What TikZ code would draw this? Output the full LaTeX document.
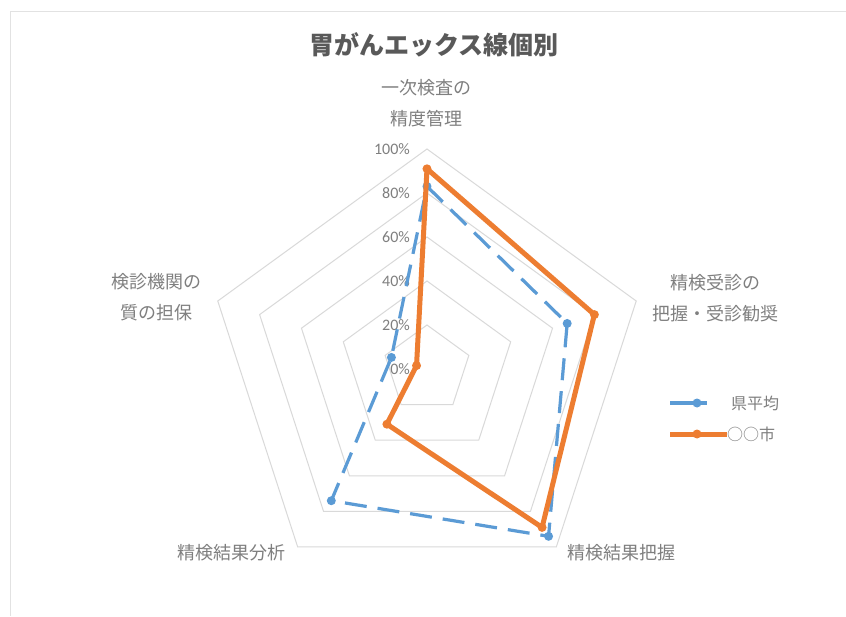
\documentclass[tikz,border=0pt]{standalone}
\usepackage{fontspec}
\newfontfamily\cjk{Noto Sans CJK JP}
\newfontfamily\numfont{Carlito}
\definecolor{avgblue}{HTML}{5B9BD5}
\definecolor{cityorange}{HTML}{ED7D31}
\definecolor{ringgray}{HTML}{D9D9D9}
\definecolor{framegray}{HTML}{E2E2E2}
\definecolor{labelgray}{HTML}{7F7F7F}
\definecolor{titlegray}{HTML}{595959}
\tikzset{
  ringline/.style={draw=ringgray, line width=1pt},
  avgline/.style={draw=avgblue, line width=3.2pt, dash pattern=on 22pt off 11pt, line join=round},
  cityline/.style={draw=cityorange, line width=5pt, line join=round, line cap=round},
  axislabel/.style={text=labelgray, font=\cjk\fontsize{18}{31}\selectfont, align=center, inner sep=0pt},
  pctlabel/.style={text=labelgray, font=\numfont\fontsize{16}{16}\selectfont, anchor=east, inner sep=0pt},
  legendlabel/.style={text=labelgray, font=\cjk\fontsize{16}{16}\selectfont, anchor=west, inner sep=0pt},
}
\begin{document}
\begin{tikzpicture}[x=1pt,y=1pt]
\useasboundingbox (-427,-247) rectangle (419,369);
\fill[white] (-427,-247) rectangle (419,369);
\draw[framegray, line width=1pt] (-416,-247) -- (-416,357) -- (419,357);
\node[text=titlegray, font=\cjk\bfseries\fontsize{25}{25}\selectfont] (title) at (7,324) {胃がんエックス線個別};
% rings 20% .. 100%
\draw[ringline] (90:44) -- (18:44) -- (-54:44) -- (-126:44) -- (162:44) -- cycle;
\draw[ringline] (90:88) -- (18:88) -- (-54:88) -- (-126:88) -- (162:88) -- cycle;
\draw[ringline] (90:132) -- (18:132) -- (-54:132) -- (-126:132) -- (162:132) -- cycle;
\draw[ringline] (90:176) -- (18:176) -- (-54:176) -- (-126:176) -- (162:176) -- cycle;
\draw[ringline] (90:220) -- (18:220) -- (-54:220) -- (-126:220) -- (162:220) -- cycle;
\node[pctlabel] (p0) at (-17,0) {0\%};
\node[pctlabel] (p20) at (-17,44) {20\%};
\node[pctlabel] (p40) at (-17,88) {40\%};
\node[pctlabel] (p60) at (-17,132) {60\%};
\node[pctlabel] (p80) at (-17,176) {80\%};
\node[pctlabel] (p100) at (-17,220) {100\%};
\node[axislabel] (axtop) at (0,266) {一次検査の\\精度管理};
\node[axislabel] (axright) at (288,71) {精検受診の\\把握・受診勧奨};
\node[axislabel] (axleft) at (-270,72) {検診機関の\\質の担保};
\node[axislabel] (axbl) at (-195,-184) {精検結果分析};
\node[axislabel] (axbr) at (194,-184) {精検結果把握};
% 県平均
\coordinate (a1) at (90:182.6);
\coordinate (a2) at (18:147.4);
\coordinate (a3) at (-54:206.8);
\coordinate (a4) at (-126:162.8);
\coordinate (a5) at (162:37.4);
\draw[avgline] (a1) -- (a2) -- (a3) -- (a4) -- (a5) -- cycle;
\fill[avgblue] (a1) circle [radius=4.5pt];
\fill[avgblue] (a2) circle [radius=4.5pt];
\fill[avgblue] (a3) circle [radius=4.5pt];
\fill[avgblue] (a4) circle [radius=4.5pt];
\fill[avgblue] (a5) circle [radius=4.5pt];
% 市
\coordinate (c1) at (90:200.2);
\coordinate (c2) at (18:176);
\coordinate (c3) at (-54:195.8);
\coordinate (c4) at (-126:68.2);
\coordinate (c5) at (162:11);
\draw[cityline] (c1) -- (c2) -- (c3) -- (c4) -- (c5) -- cycle;
\fill[cityorange] (c1) circle [radius=4.5pt];
\fill[cityorange] (c2) circle [radius=4.5pt];
\fill[cityorange] (c3) circle [radius=4.5pt];
\fill[cityorange] (c4) circle [radius=4.5pt];
\fill[cityorange] (c5) circle [radius=4.5pt];
% legend
\coordinate (la1) at (243,-34);
\coordinate (la2) at (280,-34);
\coordinate (lam) at (270,-34);
\draw[avgline, solid] (la1) -- (la2);
\fill[avgblue] (lam) circle [radius=4.5pt];
\node[legendlabel] (legavg) at (304,-34) {県平均};
\coordinate (lc1) at (243,-65);
\coordinate (lc2) at (300,-65);
\coordinate (lcm) at (270,-65);
\draw[cityline, line cap=butt] (lc1) -- (lc2);
\fill[cityorange] (lcm) circle [radius=4.5pt];
\node[legendlabel] (legcity) at (300,-65) {○○市};
\end{tikzpicture}
\end{document}
